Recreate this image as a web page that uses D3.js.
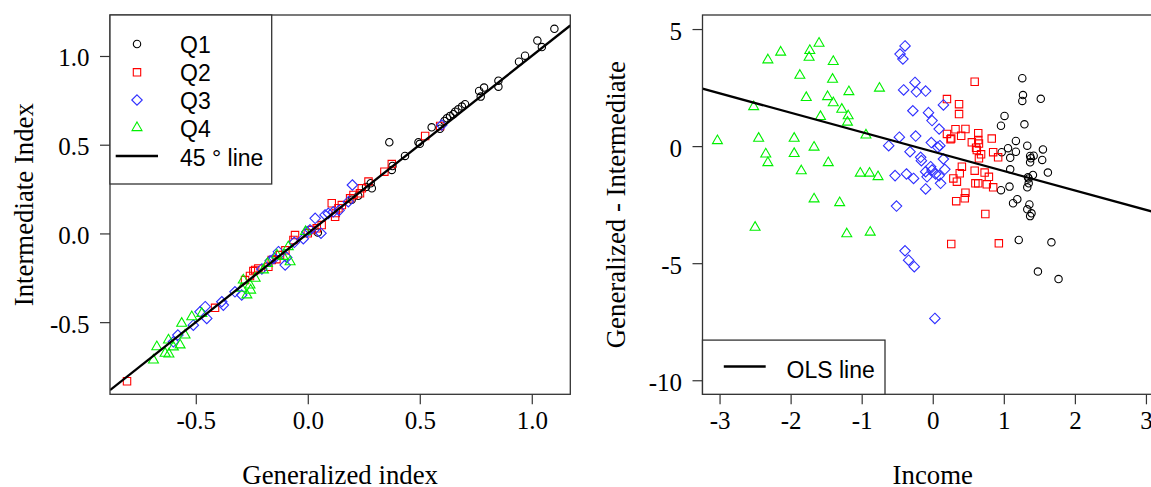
<!DOCTYPE html>
<html>
<head>
<meta charset="utf-8">
<script src="https://cdn.jsdelivr.net/npm/d3@7"></script>
<style>
  body { margin: 0; background: #fff; }
</style>
</head>
<body>
<div id="chart"></div>
<script>
// Left panel: [Generalized index, Intermediate index] by income quartile
const leftQ1 = [[1.101,1.153],[1.025,1.087],[1.045,1.050],[0.970,1.002],[0.943,0.968],[0.851,0.861],[0.851,0.827],
  [0.787,0.822],[0.765,0.803],[0.772,0.771],[0.702,0.728],[0.688,0.715],[0.672,0.700],[0.658,0.686],[0.650,0.672],
  [0.635,0.662],[0.621,0.649],[0.610,0.634],[0.553,0.598],[0.494,0.514],[0.364,0.514],[0.434,0.437],[0.378,0.380],
  [0.375,0.358],[0.281,0.283],[0.286,0.254],[0.260,0.262],[0.225,0.212],[0.196,0.190],[0.590,0.590],[0.500,0.505],
  [0.045,0.005]];
const leftQ2 = [[-0.807,-0.833],[-0.414,-0.419],[-0.280,-0.263],[-0.243,-0.212],[-0.258,-0.240],[-0.235,-0.206],
  [-0.221,-0.197],[-0.176,-0.188],[-0.161,-0.150],[-0.124,-0.122],[-0.064,-0.037],[-0.057,-0.009],[0.000,0.001],
  [0.018,0.019],[0.040,0.029],[0.062,0.047],[0.107,0.170],[0.122,0.094],[0.137,0.142],[0.152,0.160],[0.189,0.198],
  [0.204,0.217],[0.241,0.254],[0.233,0.226],[0.271,0.292],[0.342,0.348],[0.375,0.391],[0.524,0.549],[0.591,0.606],
  [-0.140,-0.145],[-0.100,-0.095],[0.125,0.115]];
const leftQ3 = [[0.199,0.273],[0.033,0.085],[0.059,0.001],[0.114,0.122],[0.092,0.113],[0.077,0.104],[-0.004,0.010],
  [0.181,0.179],[-0.101,-0.178],[-0.131,-0.103],[-0.094,-0.135],[-0.168,-0.154],[-0.458,-0.413],[-0.451,-0.479],
  [-0.377,-0.404],[-0.384,-0.385],[-0.481,-0.442],[-0.511,-0.517],[-0.580,-0.573],[-0.600,-0.611],[-0.325,-0.329],
  [-0.295,-0.347],[0.598,0.611],[-0.205,-0.200],[-0.060,-0.050],[0.140,0.130],[-0.150,-0.140],[-0.020,-0.030],
  [0.010,0.020]];
const leftQ4 = [[-0.563,-0.507],[-0.548,-0.573],[-0.570,-0.629],[-0.622,-0.601],[-0.674,-0.639],[-0.637,-0.676],
  [-0.689,-0.714],[-0.295,-0.310],[-0.272,-0.347],[-0.473,-0.451],[-0.518,-0.470],[-0.087,-0.075],[-0.079,-0.160],
  [-0.198,-0.206],[-0.235,-0.253],[-0.258,-0.291],[-0.288,-0.263],[-0.138,-0.122],[-0.255,-0.320],[-0.600,-0.640],
  [-0.620,-0.680],[-0.180,-0.170],[-0.010,0.010],[-0.110,-0.130]];

// Right panel: [Income, Generalized - Intermediate]
const rightQ1 = [[1.26,2.90],[1.27,2.18],[1.26,1.93],[1.52,2.02],[1.01,1.29],[0.96,0.87],[1.29,0.93],[1.17,0.22],
  [1.33,0.02],[1.06,-0.09],[0.97,-0.26],[1.17,-0.24],[1.55,-0.14],[1.09,-0.50],[1.37,-0.42],[1.42,-0.41],[1.38,-0.52],
  [1.54,-0.59],[1.37,-0.69],[1.09,-0.99],[1.62,-1.13],[1.41,-1.23],[1.34,-1.33],[1.35,-1.38],[1.35,-1.59],[1.33,-1.76],
  [0.96,-1.88],[1.08,-1.73],[1.19,-2.27],[1.13,-2.44],[1.36,-2.49],[1.33,-2.70],[1.39,-2.87],[1.37,-2.99],[1.21,-4.01],
  [1.67,-4.11],[1.48,-5.36],[1.77,-5.68]];
const rightQ2 = [[0.59,2.75],[0.20,2.01],[0.37,1.79],[0.37,1.37],[0.20,0.52],[0.32,0.72],[0.46,0.73],[0.25,0.29],
  [0.26,0.33],[0.40,0.44],[0.64,0.55],[0.55,0.16],[0.64,0.26],[0.65,0.11],[0.83,0.32],[0.61,-0.07],[0.62,-0.17],
  [0.85,-0.26],[0.68,-0.35],[0.65,-0.52],[0.92,-0.48],[0.41,-0.88],[0.59,-1.05],[0.38,-1.16],[0.73,-1.13],[0.79,-1.31],
  [0.29,-1.38],[0.34,-1.52],[0.60,-1.59],[0.64,-1.59],[0.76,-1.63],[0.85,-1.76],[0.46,-1.99],[0.45,-2.23],[0.33,-2.35],
  [0.74,-2.90],[0.26,-4.18],[0.93,-4.15]];
const rightQ3 = [[-0.39,4.28],[-0.46,3.93],[-0.42,3.72],[-0.25,2.72],[-0.41,2.40],[-0.23,2.32],[-0.10,2.35],[0.15,1.76],
  [-0.28,1.51],[-0.06,1.43],[-0.01,1.09],[0.09,0.73],[-0.47,0.38],[-0.24,0.43],[-0.62,0.02],[-0.02,0.15],[0.07,-0.05],
  [-0.32,-0.24],[-0.17,-0.48],[-0.16,-0.62],[0.15,-0.55],[-0.53,-1.26],[-0.37,-1.19],[-0.27,-1.38],[-0.10,-1.09],
  [-0.01,-1.02],[0.04,-1.19],[-0.08,-1.31],[0.09,-1.26],[0.17,-0.99],[-0.10,-1.83],[0.11,-1.59],[-0.51,-2.56],
  [-0.39,-4.47],[-0.34,-4.87],[-0.26,-5.15],[0.03,-7.36],[-0.03,-0.88],[0.10,0.02]];
const rightQ4 = [[-1.60,4.39],[-2.14,4.01],[-2.32,3.68],[-1.73,4.08],[-1.74,3.79],[-1.40,3.61],[-1.87,3.02],[-1.41,2.85],
  [-0.75,2.47],[-1.18,2.32],[-1.78,2.07],[-1.48,2.11],[-1.40,1.85],[-2.52,1.68],[-1.28,1.57],[-1.19,1.29],[-1.58,1.26],
  [-1.20,1.02],[-0.94,0.47],[-3.03,0.23],[-2.45,0.33],[-1.95,0.33],[-1.67,-0.05],[-2.35,-0.34],[-1.95,-0.32],
  [-2.32,-0.71],[-1.47,-0.71],[-1.85,-1.06],[-1.02,-1.16],[-0.89,-1.16],[-0.77,-1.31],[-1.67,-2.26],[-1.31,-2.42],
  [-2.50,-3.47],[-1.21,-3.75],[-0.88,-3.68]];

const olsCoef = [-0.235, -0.83];   // intercept, slope
const leftXTicks = [-0.5, 0.0, 0.5, 1.0];
const leftYTicks = [-0.5, 0.0, 0.5, 1.0];
const rightXTicks = [-3, -2, -1, 0, 1, 2, 3];
const rightYTicks = [-10, -5, 0, 5];
const quartiles = ["Q1", "Q2", "Q3", "Q4"];

const width = 1151, height = 487;
const serif = "'Liberation Serif', 'Times New Roman', serif",
      sans = "'Liberation Sans', Arial, sans-serif";
const colors = ["#000000", "#ff0000", "#2f2fff", "#00f000"];
const shapes = ["circle", "square", "diamond", "triangle"];

const svg = d3.select("#chart")
    .append("svg")
    .attr("width", width)
    .attr("height", height);

// R-style point symbols (pch 1, 0, 5, 2)
const U = 9.87;
function symbol(shape, x, y) {
    if (shape == "circle") {
        const r = 0.375 * U;
        return `M${x - r},${y}a${r},${r} 0 1,0 ${2 * r},0a${r},${r} 0 1,0 ${-2 * r},0Z`;
    }
    if (shape == "square") {
        const h = 0.375 * 1.0 * U;
        return `M${x - h},${y - h}h${2 * h}v${2 * h}h${-2 * h}Z`;
    }
    if (shape == "diamond") {
        const h = 0.375 * 1.4142 * U;
        return `M${x},${y - h}L${x + h},${y}L${x},${y + h}L${x - h},${y}Z`;
    }
    const r = 0.375 * 1.5551 * U, xc = 0.375 * 1.3468 * U;
    return `M${x},${y - r}L${x + xc},${y + r / 2}L${x - xc},${y + r / 2}Z`;
}

function panel(box, xDomain, yDomain, groups, xTicks, yTicks, fmt, xTitle, yTitle, yTitleX, lineFn, id) {
    const x = d3.scaleLinear().domain(xDomain).range([box.x0, box.x1]);
    const y = d3.scaleLinear().domain(yDomain).range([box.y1, box.y0]);

    svg.append("clipPath").attr("id", id)
        .append("rect")
        .attr("x", box.x0).attr("y", box.y0)
        .attr("width", box.x1 - box.x0).attr("height", box.y1 - box.y0);

    const plot = svg.append("g").attr("clip-path", `url(#${id})`);

    groups.forEach((pts, i) => {
        plot.selectAll(null)
            .data(pts)
            .join("path")
            .attr("d", d => symbol(shapes[i], x(d[0]), y(d[1])))
            .attr("fill", "none")
            .attr("stroke", colors[i])
            .attr("stroke-width", 1.1);
    });

    plot.append("line")
        .attr("x1", x(xDomain[0])).attr("y1", y(lineFn(xDomain[0])))
        .attr("x2", x(xDomain[1])).attr("y2", y(lineFn(xDomain[1])))
        .attr("stroke", "#000")
        .attr("stroke-width", 2.3);

    const xAxis = g => g
        .attr("transform", `translate(0,${box.y1})`)
        .call(d3.axisBottom(x).tickValues(xTicks).tickSize(10).tickFormat(fmt))
        .call(g => g.select(".domain").remove())
        .call(g => g.selectAll("line").attr("stroke", "#333").attr("stroke-width", 1.2))
        .call(g => g.selectAll("text").attr("y", 35).attr("dy", null).attr("fill", "#000"));

    const yAxis = g => g
        .attr("transform", `translate(${box.x0},0)`)
        .call(d3.axisLeft(y).tickValues(yTicks).tickSize(10).tickFormat(fmt))
        .call(g => g.select(".domain").remove())
        .call(g => g.selectAll("line").attr("stroke", "#333").attr("stroke-width", 1.2))
        .call(g => g.selectAll("text").attr("x", -20.5).attr("dy", "0.4em").attr("fill", "#000"));

    svg.append("g").call(xAxis).attr("font-family", serif).attr("font-size", 25);
    svg.append("g").call(yAxis).attr("font-family", serif).attr("font-size", 25);

    svg.append("rect")
        .attr("x", box.x0).attr("y", box.y0)
        .attr("width", box.x1 - box.x0).attr("height", box.y1 - box.y0)
        .attr("fill", "none")
        .attr("stroke", "#333")
        .attr("stroke-width", 1.3);

    svg.append("text")
        .attr("x", (box.x0 + box.x1) / 2).attr("y", 483.5)
        .attr("text-anchor", "middle")
        .attr("font-family", serif).attr("font-size", 26.8)
        .text(xTitle);

    svg.append("text")
        .attr("transform", `translate(${yTitleX},${(box.y0 + box.y1) / 2}) rotate(-90)`)
        .attr("text-anchor", "middle")
        .attr("font-family", serif).attr("font-size", 26.8)
        .text(yTitle);
}

panel({x0: 110, x1: 570.3, y0: 15, y1: 394.3}, [-0.883, 1.172], [-0.9066, 1.231],
    [leftQ1, leftQ2, leftQ3, leftQ4], leftXTicks, leftYTicks, d => d.toFixed(1),
    "Generalized index", "Intermediate Index", 33, v => v, "clipL");

panel({x0: 702.5, x1: 1163, y0: 15, y1: 394.3}, [-3.24, 3.24], [-10.6, 5.6],
    [rightQ1, rightQ2, rightQ3, rightQ4], rightXTicks, rightYTicks, d => String(d),
    "Income", "Generalized - Intermediate", 625, v => olsCoef[0] + olsCoef[1] * v, "clipR");

// left legend
const legL = svg.append("g");
legL.append("rect")
    .attr("x", 110).attr("y", 15).attr("width", 161.7).attr("height", 169)
    .attr("fill", "#fff").attr("stroke", "#333").attr("stroke-width", 1.3);
const rowY = [44, 72.3, 100, 127.7];
quartiles.forEach((q, i) => {
    legL.append("path")
        .attr("d", symbol(shapes[i], 137, rowY[i]))
        .attr("fill", "none").attr("stroke", colors[i]).attr("stroke-width", 1.1);
    legL.append("text")
        .attr("x", 180).attr("y", rowY[i] + 9)
        .attr("font-family", sans).attr("font-size", 23)
        .text(q);
});
legL.append("line")
    .attr("x1", 115.7).attr("x2", 158).attr("y1", 156).attr("y2", 156)
    .attr("stroke", "#000").attr("stroke-width", 2.3);
legL.append("text")
    .attr("x", 180).attr("y", 165.5)
    .attr("font-family", sans).attr("font-size", 23)
    .text("45 ° line");

// right legend
const legR = svg.append("g");
legR.append("rect")
    .attr("x", 702.5).attr("y", 340.1).attr("width", 182.5).attr("height", 54.2)
    .attr("fill", "#fff").attr("stroke", "#333").attr("stroke-width", 1.3);
legR.append("line")
    .attr("x1", 723.8).attr("x2", 765.7).attr("y1", 366.5).attr("y2", 366.5)
    .attr("stroke", "#000").attr("stroke-width", 2.3);
legR.append("text")
    .attr("x", 786.5).attr("y", 377.5)
    .attr("font-family", sans).attr("font-size", 23)
    .text("OLS line");
</script>
</body>
</html>
